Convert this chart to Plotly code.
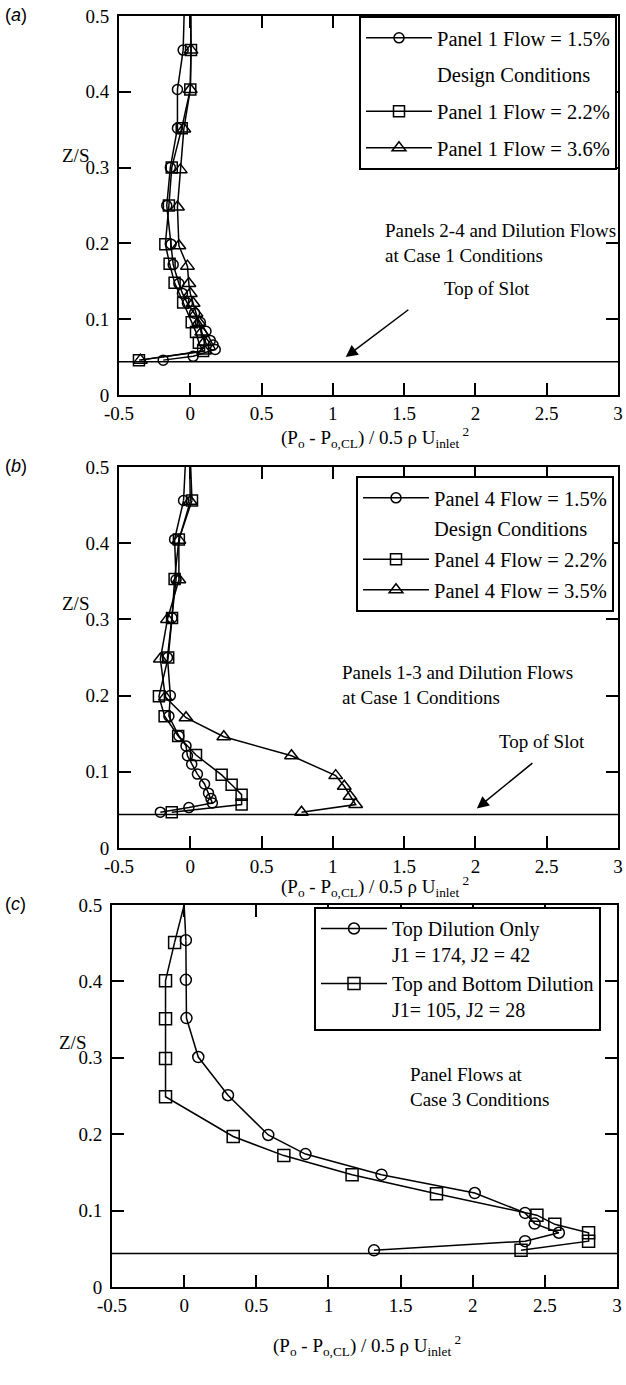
import plotly.graph_objects as go

# ---------------- data ----------------
X_TICK_VALS = [-0.5, 0, 0.5, 1, 1.5, 2, 2.5, 3]
X_TICK_TEXT = ["-0.5", "0", "0.5", "1", "1.5", "2", "2.5", "3"]
Y_TICK_VALS = [0, 0.1, 0.2, 0.3, 0.4, 0.5]
Y_TICK_TEXT = ["0", "0.1", "0.2", "0.3", "0.4", "0.5"]
SLOT_Z = 0.044  # "Top of Slot"

# Panel (a) – Panel 1 flow variation (first point = line leaving the top of the plot)
a_15_x = [-0.035, -0.05, -0.09, -0.09, -0.14, -0.165, -0.135, -0.12, -0.08, -0.055, -0.02, 0.03, 0.07, 0.11, 0.14, 0.16, 0.175, 0.02, -0.19]
a_15_z = [0.56, 0.455, 0.403, 0.352, 0.300, 0.250, 0.199, 0.172, 0.147, 0.134, 0.121, 0.108, 0.096, 0.084, 0.072, 0.066, 0.060, 0.051, 0.046]
a_22_x = [0.0, 0.005, 0.0, -0.06, -0.13, -0.15, -0.175, -0.145, -0.11, -0.05, 0.01, 0.04, 0.06, 0.09, -0.36]
a_22_z = [0.56, 0.455, 0.403, 0.352, 0.300, 0.250, 0.199, 0.173, 0.148, 0.122, 0.096, 0.083, 0.069, 0.058, 0.046]
a_36_x = [0.0, 0.005, 0.0, -0.045, -0.07, -0.09, -0.08, -0.02, -0.01, 0.0, 0.02, 0.04, 0.06, 0.08, 0.10, 0.10, -0.35]
a_36_z = [0.56, 0.455, 0.403, 0.351, 0.297, 0.248, 0.197, 0.170, 0.147, 0.134, 0.121, 0.108, 0.096, 0.083, 0.070, 0.058, 0.046]

# Panel (b) – Panel 4 flow variation
b_15_x = [-0.02, -0.047, -0.11, -0.10, -0.128, -0.16, -0.14, -0.15, -0.08, -0.03, -0.02, 0.01, 0.05, 0.10, 0.128, 0.145, 0.155, -0.01, -0.21]
b_15_z = [0.56, 0.456, 0.405, 0.352, 0.302, 0.250, 0.200, 0.173, 0.147, 0.134, 0.121, 0.110, 0.097, 0.084, 0.072, 0.065, 0.059, 0.053, 0.047]
b_22_x = [-0.01, 0.012, -0.08, -0.11, -0.128, -0.155, -0.22, -0.18, -0.085, 0.04, 0.22, 0.29, 0.36, 0.36, -0.13]
b_22_z = [0.56, 0.456, 0.405, 0.353, 0.302, 0.250, 0.199, 0.173, 0.147, 0.122, 0.096, 0.083, 0.070, 0.057, 0.047]
b_35_x = [-0.01, 0.0, -0.08, -0.08, -0.16, -0.21, -0.175, -0.03, 0.235, 0.71, 1.02, 1.08, 1.12, 1.16, 0.78]
b_35_z = [0.56, 0.455, 0.404, 0.352, 0.300, 0.248, 0.198, 0.171, 0.146, 0.121, 0.095, 0.081, 0.068, 0.057, 0.047]

# Panel (c) – dilution configurations
c_top_x = [0.0, 0.012, 0.012, 0.016, 0.098, 0.304, 0.583, 0.841, 1.368, 2.014, 2.363, 2.429, 2.597, 2.363, 1.316]
c_top_z = [0.50, 0.454, 0.402, 0.352, 0.301, 0.251, 0.199, 0.174, 0.147, 0.123, 0.097, 0.083, 0.071, 0.060, 0.048]
c_tb_x = [0.0, -0.066, -0.129, -0.129, -0.129, -0.129, 0.34, 0.691, 1.164, 1.749, 2.445, 2.569, 2.803, 2.803, 2.335]
c_tb_z = [0.50, 0.451, 0.401, 0.351, 0.299, 0.249, 0.197, 0.172, 0.147, 0.122, 0.094, 0.082, 0.071, 0.060, 0.048]

# ---------------- styling ----------------
SERIF = "Liberation Serif, Times New Roman, serif"
SANS = "Liberation Sans, Arial, sans-serif"
W, H = 626, 1385
FS = 19

def px_x(p):
    return p / W

def px_y(p):
    return 1 - p / H

panels = [
    dict(key="", label="a", xdom=(119, 618), ydom=(16, 395), legend="legend",
         series=[("Panel 1 Flow = 1.5%", a_15_x, a_15_z, "circle-open", 10),
                 ("Design Conditions", None, None, None, None),
                 ("Panel 1 Flow = 2.2%", a_22_x, a_22_z, "square-open", 11),
                 ("Panel 1 Flow = 3.6%", a_36_x, a_36_z, "triangle-up-open", 12)],
         leg_pos=(617, 16), leg_gap=7, leg_fs=20.5,
         note="Panels 2-4 and Dilution Flows<br>at Case 1 Conditions",
         note_xy=(1.355, 0.201), slot_text=(2.08, 0.141), arrow=((1.09, 0.05), (1.54, 0.114)),
         zs=(75, 155), title_y=437, title_x=375),
    dict(key="2", label="b", xdom=(119, 618), ydom=(467, 848), legend="legend2",
         series=[("Panel 4 Flow = 1.5%", b_15_x, b_15_z, "circle-open", 10),
                 ("Design Conditions", None, None, None, None),
                 ("Panel 4 Flow = 2.2%", b_22_x, b_22_z, "square-open", 11),
                 ("Panel 4 Flow = 3.5%", b_35_x, b_35_z, "triangle-up-open", 12)],
         leg_pos=(614, 476), leg_gap=1, leg_fs=20.5,
         note="Panels 1-3 and Dilution Flows<br>at Case 1 Conditions",
         note_xy=(1.053, 0.214), slot_text=(2.47, 0.140), arrow=((2.01, 0.052), (2.41, 0.113)),
         zs=(75, 603), title_y=886, title_x=375),
    dict(key="3", label="c", xdom=(112, 617), ydom=(905, 1287), legend="legend3",
         series=[("Top Dilution Only<br>J1 = 174, J2 = 42", c_top_x, c_top_z, "circle-open", 11),
                 ("Top and Bottom Dilution<br>J1= 105, J2 = 28", c_tb_x, c_tb_z, "square-open", 12)],
         leg_pos=(601, 907), leg_gap=0, leg_fs=20,
         note="Panel Flows at<br>Case 3 Conditions",
         note_xy=(1.55, 0.262), slot_text=None, arrow=None,
         zs=(72, 1042), title_y=1345, title_x=367),
]

fig = go.Figure()
annotations = []

XTITLE = "(P<sub>o</sub> - P<sub>o,CL</sub>) / 0.5 ρ U<sub>inlet</sub><sup> 2</sup>"

for p in panels:
    k = p["key"]
    xa, ya = "x" + k, "y" + k
    for i, (name, xs, zs, sym, size) in enumerate(p["series"]):
        grp = p["label"] + str(i)
        if xs is None:
            fig.add_trace(go.Scatter(x=[None], y=[None], mode="lines", name=name,
                                     line=dict(color="rgba(0,0,0,0)", width=0),
                                     xaxis=xa, yaxis=ya, legend=p["legend"], legendgroup=grp))
            continue
        # line continuing to the upper edge
        fig.add_trace(go.Scatter(x=xs[:2], y=zs[:2], mode="lines", showlegend=False,
                                 line=dict(color="black", width=1.5),
                                 xaxis=xa, yaxis=ya, hoverinfo="skip", legendgroup=grp,
                                 legend=p["legend"]))
        fig.add_trace(go.Scatter(x=xs[1:], y=zs[1:], mode="lines+markers", name=name,
                                 line=dict(color="black", width=1.5),
                                 marker=dict(symbol=sym, size=size, color="black",
                                             line=dict(color="black", width=1.5)),
                                 xaxis=xa, yaxis=ya, legend=p["legend"], legendgroup=grp))
    # slot line
    fig.add_trace(go.Scatter(x=[X_TICK_VALS[0], X_TICK_VALS[-1]], y=[SLOT_Z, SLOT_Z], mode="lines",
                             line=dict(color="black", width=1.5), showlegend=False,
                             xaxis=xa, yaxis=ya, hoverinfo="skip"))

    axis_common = dict(showline=True, linecolor="black", linewidth=2, mirror="ticks",
                       ticks="inside", ticklen=12, tickwidth=1.5, tickcolor="black",
                       showgrid=False, zeroline=False, automargin=False,
                       tickfont=dict(family=SERIF, size=FS, color="black"))
    fig.layout["xaxis" + k] = dict(axis_common, range=[-0.5, 3], tickvals=X_TICK_VALS,
                                   ticktext=X_TICK_TEXT, anchor=ya,
                                   domain=[px_x(p["xdom"][0]), px_x(p["xdom"][1])])
    fig.layout["yaxis" + k] = dict(axis_common, range=[0, 0.5], tickvals=Y_TICK_VALS,
                                   ticktext=Y_TICK_TEXT, anchor=xa, ticklabelstandoff=4,
                                   domain=[px_y(p["ydom"][1]), px_y(p["ydom"][0])])

    lx, ly = p["leg_pos"]
    fig.layout[p["legend"]] = dict(x=px_x(lx), y=px_y(ly), xanchor="right", yanchor="top",
                                   bgcolor="white", bordercolor="black", borderwidth=2,
                                   font=dict(family=SERIF, size=p["leg_fs"], color="black"),
                                   tracegroupgap=p["leg_gap"], itemwidth=66,
                                   valign="top")

    annotations.append(dict(text=p["note"], x=p["note_xy"][0], y=p["note_xy"][1],
                            xref=xa, yref=ya, xanchor="left", yanchor="middle", align="left",
                            showarrow=False, font=dict(family=SERIF, size=FS)))
    if p["slot_text"]:
        annotations.append(dict(text="Top of Slot", x=p["slot_text"][0], y=p["slot_text"][1],
                                xref=xa, yref=ya, xanchor="center", yanchor="middle",
                                showarrow=False, font=dict(family=SERIF, size=FS)))
        (hx, hy), (tx, ty) = p["arrow"]
        annotations.append(dict(text="", x=hx, y=hy, ax=tx, ay=ty, xref=xa, yref=ya,
                                axref=xa, ayref=ya, showarrow=True, arrowhead=2,
                                arrowsize=1.6, arrowwidth=1.5, arrowcolor="black"))
    annotations.append(dict(text="Z/S", x=px_x(p["zs"][0]), y=px_y(p["zs"][1]),
                            xref="paper", yref="paper", xanchor="center", yanchor="middle",
                            showarrow=False, font=dict(family=SERIF, size=FS)))
    annotations.append(dict(text=XTITLE, x=px_x(p["title_x"]), y=px_y(p["title_y"]),
                            xref="paper", yref="paper", xanchor="center", yanchor="middle",
                            showarrow=False, font=dict(family=SERIF, size=FS)))
    annotations.append(dict(text="(<i>" + p["label"] + "</i>)", x=px_x(3), y=px_y(p["ydom"][0] - 1),
                            xref="paper", yref="paper", xanchor="left", yanchor="middle",
                            showarrow=False, font=dict(family=SANS, size=18)))

fig.update_layout(width=W, height=H, margin=dict(l=0, r=0, t=0, b=0, autoexpand=False),
                  paper_bgcolor="white", plot_bgcolor="white",
                  font=dict(family=SERIF, size=FS, color="black"),
                  showlegend=True, annotations=annotations)

fig.write_html("out.html")
